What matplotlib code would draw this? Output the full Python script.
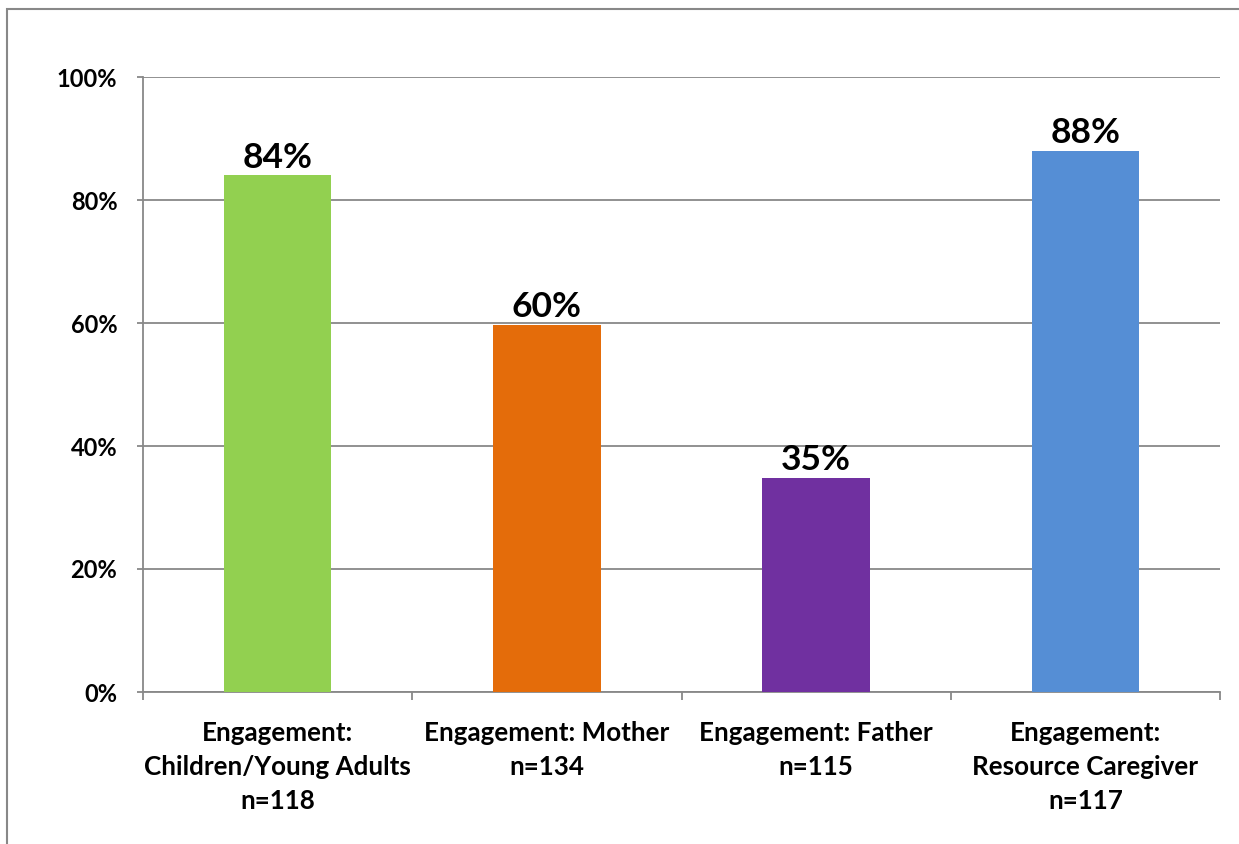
import matplotlib.pyplot as plt
from matplotlib.patches import Rectangle
from matplotlib.ticker import PercentFormatter

categories = [
    'Engagement:\nChildren/Young Adults\nn=118',
    'Engagement: Mother\nn=134',
    'Engagement: Father\nn=115',
    'Engagement:\nResource Caregiver\nn=117',
]
values = [0.84, 0.597, 0.348, 0.88]
colors = ['#92D050', '#E46C0A', '#7030A0', '#558ED5']

plt.rcParams['font.family'] = ['Lato', 'DejaVu Sans']
plt.rcParams['font.weight'] = 'bold'

fig = plt.figure(figsize=(12.39, 8.44), dpi=100)
ax = fig.add_axes([143 / 1239, 1 - 692 / 844, (1220 - 143) / 1239, (692 - 77) / 844])

# outer chart border (runs off the right and bottom edges)
fig.patches.append(Rectangle((7 / 1239, -0.05), 1.0, 1.05 - 9 / 844, transform=fig.transFigure,
                             fill=False, edgecolor='#888888', linewidth=1.5))

x = range(len(categories))
ax.bar(x, values, width=0.4, color=colors, zorder=3)

for i, v in enumerate(values):
    ax.text(i, v + 0.003, f'{round(v * 100):.0f}%', ha='center', va='bottom',
            fontsize=25.5, fontweight='bold', zorder=4)

ax.set_xlim(-0.5, len(categories) - 0.5)
ax.set_ylim(0, 1.0)
ax.set_yticks([0, 0.2, 0.4, 0.6, 0.8, 1.0])
ax.yaxis.set_major_formatter(PercentFormatter(1.0, decimals=0))
ax.yaxis.grid(True, color='#888888', linewidth=1.3, zorder=0)

ax.set_xticks([-0.5, 0.5, 1.5, 2.5, 3.5])
ax.set_xticklabels([])
ax.set_xticks(list(x), minor=True)
ax.set_xticklabels(categories, minor=True, fontsize=18.7, fontweight='bold',
                   linespacing=1.5)
ax.tick_params(axis='x', which='minor', length=0, pad=21)
ax.tick_params(axis='x', which='major', length=6, color='#888888', width=1.3)
ax.tick_params(axis='y', length=4.5, color='#888888', width=1.3, labelsize=17, pad=14)

for lbl in ax.get_yticklabels():
    lbl.set_fontweight('bold')

ax.spines['top'].set_visible(False)
ax.spines['right'].set_visible(False)
ax.spines['left'].set_color('#888888')
ax.spines['bottom'].set_color('#888888')
ax.spines['left'].set_linewidth(1.3)
ax.spines['bottom'].set_linewidth(1.3)

fig.savefig('out.png', dpi=100)
plt.close()
